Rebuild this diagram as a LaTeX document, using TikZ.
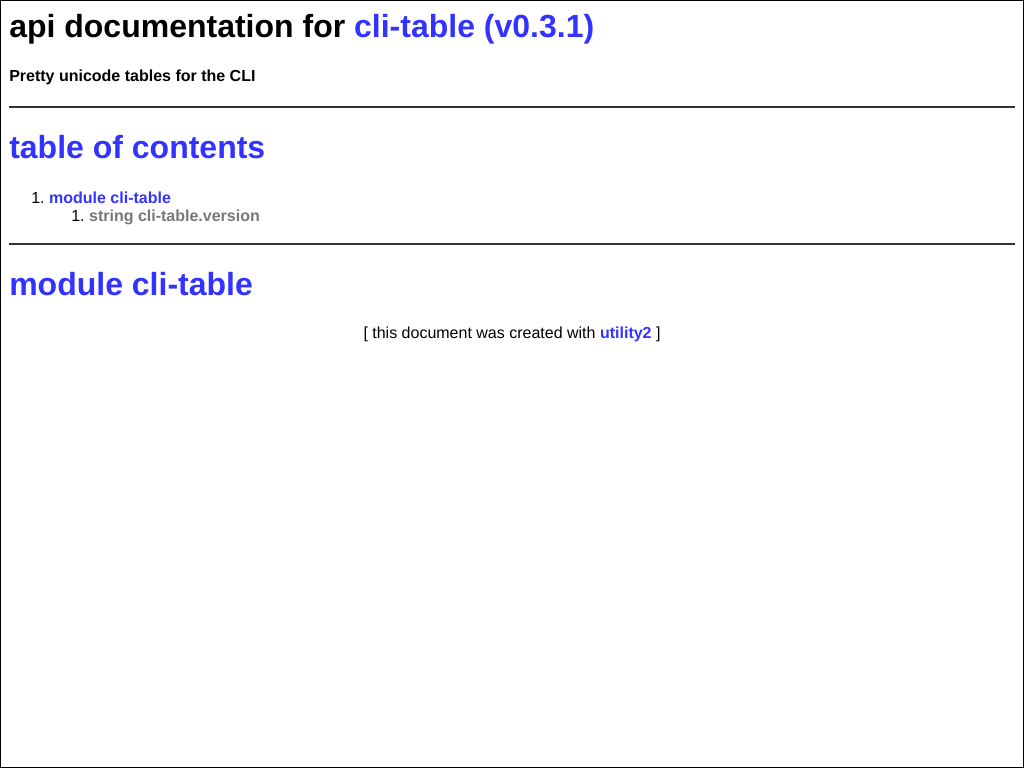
\documentclass[tikz,border=0pt]{standalone}
\usepackage{fontspec}
\setmainfont{Liberation Sans}
\usetikzlibrary{positioning}
\definecolor{linkblue}{RGB}{51,51,255}
\definecolor{tocgray}{RGB}{119,119,119}

\begin{document}
\begin{tikzpicture}[x=0.75pt,y=-0.75pt,
      txt/.style={inner sep=0pt,anchor=base west},
      head/.style={txt,font=\fontsize{24}{28}\selectfont\bfseries},
      body/.style={txt,font=\fontsize{12}{14}\selectfont},
      rule/.style={draw=black!80,line width=1.1pt}]

      \useasboundingbox (0,0) rectangle (1024,768);
      \draw[black,line width=1pt] (0.5,0.5) rectangle (1023.5,767.5);

      \node[head] (title) at (9,37) {api documentation for \textcolor{linkblue}{cli-table (v0.3.1)}};
      \node[body,font=\fontsize{12}{14}\selectfont\bfseries] (sub) at (9,81) {Pretty unicode tables for the CLI};

      \coordinate (ruleA) at (9,107);
      \coordinate (ruleB) at (1015,107);
      \draw[rule] (ruleA) -- (ruleB);

      \node[head,text=linkblue] (toc) at (9,158) {table of contents};
      \node[body] (numA) at (31,203) {1.};
      \node[body,font=\fontsize{12}{14}\selectfont\bfseries,text=linkblue] (itemA) [right=3pt of numA.base east,anchor=base west] {module cli-table};
      \node[body] (numB) at (71,221) {1.};
      \node[body,font=\fontsize{12}{14}\selectfont\bfseries,text=tocgray] (itemB) [right=3pt of numB.base east,anchor=base west] {string cli-table.version};

      \coordinate (ruleC) at (9,244);
      \coordinate (ruleD) at (1015,244);
      \draw[rule] (ruleC) -- (ruleD);

      \node[head,text=linkblue] (mod) at (9,295) {module cli-table};
      \node[body,anchor=base] (foot) at (512,338) {[ this document was created with \textcolor{linkblue}{\bfseries utility2} ]};
\end{tikzpicture}
\end{document}
